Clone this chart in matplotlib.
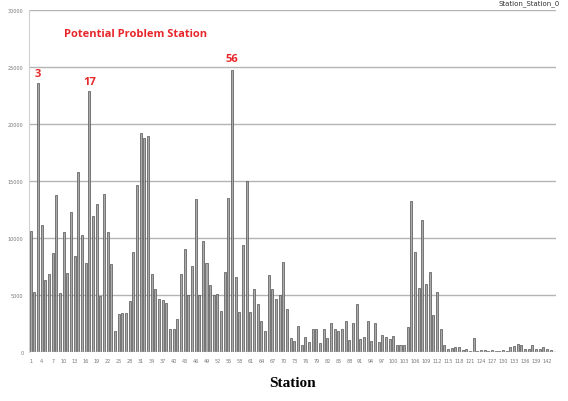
import numpy as np
import matplotlib as mpl
mpl.use('Agg')
import matplotlib.pyplot as plt

# traffic per station
stations = np.arange(1, 144)
counts = [10600, 5300, 23600, 11100, 6300, 6800, 8700, 13800, 5200, 10500,
          6900, 12300, 8400, 15800, 10300, 7800, 22900, 11900, 12950, 4900,
          13850, 10550, 7700, 1800, 3350, 3450, 3450, 4500, 8800, 14650,
          19200, 18750, 18900, 6850, 5550, 4650, 4600, 4300, 2000, 2000,
          2900, 6850, 9000, 5000, 7500, 13400, 5000, 9750, 7800, 5900,
          5000, 5100, 3600, 7000, 13500, 24700, 6600, 3500, 9400, 15000,
          3500, 5500, 4200, 2750, 1850, 6750, 5500, 4650, 5000, 7900,
          3800, 1200, 1000, 2250, 650, 1300, 900, 2000, 2000, 800,
          2000, 1250, 2500, 2000, 1800, 2000, 2750, 1050, 2500, 4200,
          1150, 1350, 2700, 950, 2500, 850, 1500, 1300, 1100, 1400,
          650, 600, 600, 2150, 13200, 8800, 5600, 11600, 5950, 7050,
          3200, 5300, 2000, 650, 250, 350, 400, 450, 150, 250,
          100, 1250, 100, 150, 150, 100, 150, 50, 50, 150,
          100, 400, 550, 700, 600, 250, 250, 600, 250, 300,
          400, 300, 150]
tick_stations = np.arange(1, 143, 3)
problem_stations = [3, 17, 56]

fig = plt.figure(figsize=(5.68, 4.02), dpi=100)
ax = fig.add_axes([0.051, 0.122, 0.928, 0.851])

ax.bar(stations, counts, width=0.55, color='#ababab', edgecolor='#505050', linewidth=0.5, zorder=3)

ax.set_xlim(0.5, 144.5)
ax.set_ylim(0, 30000)
ax.set_yticks(np.arange(0, 30001, 5000))
ax.set_xticks(tick_stations)
ax.set_xticklabels([str(s) for s in tick_stations])
ax.tick_params(axis='both', labelsize=3.5, colors='#777777', length=0, pad=4)
ax.yaxis.grid(True, color='#b4b4b4', lw=1.0, zorder=0)
for s in ['top', 'right', 'bottom']:
    ax.spines[s].set_visible(False)
ax.spines['left'].set_color('#d0d0d0')
ax.axhline(0, color='#c8c8c8', lw=1.0, zorder=4)

ax.set_xlabel('Station', fontsize=11, fontweight='bold', family='Liberation Serif', labelpad=10)

red = '#e8262a'
ax.text(29.7, 27950, 'Potential Problem Station', color=red, fontsize=8, fontweight='bold',
        family='Open Sans', ha='center', va='center')
lab_y = {3: 24450, 17: 23750, 56: 25700}
for s in problem_stations:
    ax.text(s, lab_y[s], str(s), color=red, fontsize=8, fontweight='bold',
            family='Open Sans', ha='center', va='center')

fig.text(0.985, 0.999, 'Station_Station_0', fontsize=5, color='#333333', ha='right', va='top')

fig.savefig('out.png')
